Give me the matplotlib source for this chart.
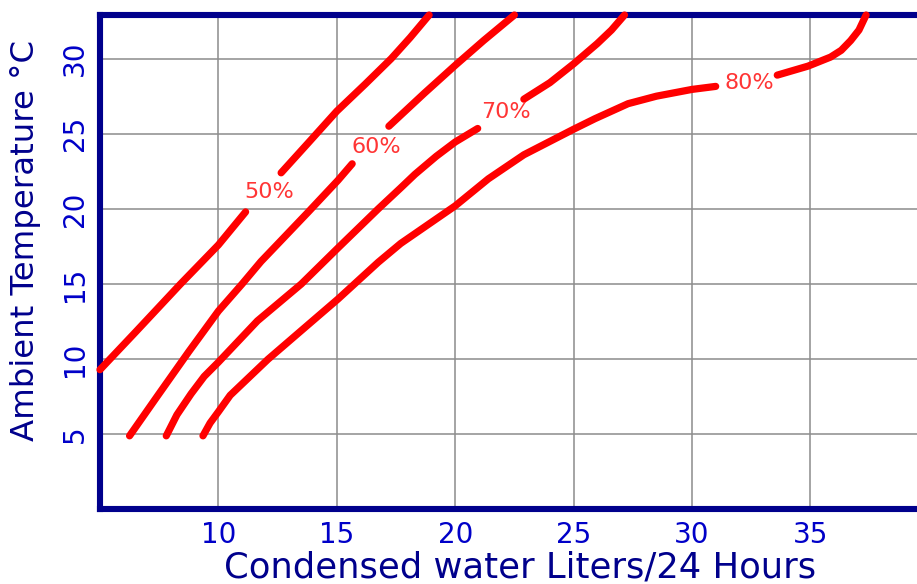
import matplotlib
matplotlib.use("Agg")
import matplotlib.pyplot as plt
import numpy as np

# Condensed water output vs ambient temperature, one curve per relative humidity.
# NaN marks the gap left in each curve for its label.
nan = np.nan
rh50_x = [5.0, 6.5, 8.4, 10.0, 11.15, nan, 12.65, 13.8, 15.0, 16.2, 17.3, 18.1, 18.9]
rh50_y = [9.3, 11.8, 15.0, 17.6, 19.8, nan, 22.4, 24.4, 26.5, 28.3, 30.0, 31.4, 32.9]

rh60_x = [6.25, 7.45, 8.75, 10.0, 11.0, 11.8, 12.65, 13.8, 15.05, 15.65,
          nan, 17.2, 18.7, 20.0, 21.2, 22.5]
rh60_y = [4.9, 7.6, 10.5, 13.2, 15.0, 16.5, 17.9, 19.8, 21.9, 23.0,
          nan, 25.5, 27.7, 29.55, 31.2, 32.9]

rh70_x = [7.8, 8.25, 8.85, 9.4, 10.0, 11.65, 13.5, 15.05, 16.75, 17.7, 18.3, 19.2,
          20.0, 20.95, nan, 22.9, 24.0, 25.0, 26.0, 26.6, 27.15]
rh70_y = [4.9, 6.3, 7.7, 8.85, 9.8, 12.55, 15.0, 17.4, 20.0, 21.4, 22.3, 23.5,
          24.45, 25.35, nan, 27.3, 28.4, 29.65, 31.0, 31.9, 32.9]

rh80_x = [9.35, 9.65, 10.0, 10.5, 11.1, 12.1, 13.5, 15.05, 16.75, 17.7, 20.0, 21.4,
          22.9, 25.0, 25.9, 27.3, 28.5, 30.0, 31.0,
          nan, 33.6, 34.9, 35.85, 36.3, 36.7, 37.05, 37.35]
rh80_y = [4.9, 5.75, 6.5, 7.6, 8.5, 10.0, 11.9, 14.0, 16.45, 17.7, 20.2, 22.0,
          23.6, 25.3, 26.0, 27.0, 27.5, 27.95, 28.15,
          nan, 28.9, 29.5, 30.1, 30.55, 31.2, 31.9, 32.9]

curves = [(rh50_x, rh50_y), (rh60_x, rh60_y), (rh70_x, rh70_y), (rh80_x, rh80_y)]
curve_labels = ["50%", "60%", "70%", "80%"]
label_x = [12.15, 16.65, 22.15, 32.4]
label_y = [21.1, 24.1, 26.45, 28.4]

x_ticks = [10, 15, 20, 25, 30, 35]
y_ticks = [5, 10, 15, 20, 25, 30]

NAVY = "#00008c"
TICK_BLUE = "#0000c8"
RED = "#ff0000"

fig = plt.figure(figsize=(9.17, 5.84), dpi=100)
ax = fig.add_axes([0.109, 0.1276, 0.891, 0.8467])

for (xs, ys) in curves:
    ax.plot(xs, ys, color=RED, linewidth=5.2, solid_capstyle="round",
            solid_joinstyle="round", zorder=3, clip_on=False)
for lab, lx, ly in zip(curve_labels, label_x, label_y):
    ax.text(lx, ly, lab, color="#ff3535", fontsize=16, ha="center", va="center")

ax.set_xlim(5, 39.5)
ax.set_ylim(0, 32.9)
ax.set_xticks(x_ticks)
ax.set_yticks(y_ticks)
ax.grid(True, color="#8c8c8c", linewidth=1.1)
ax.set_axisbelow(True)
ax.tick_params(length=0, labelsize=20, labelcolor=TICK_BLUE)
ax.tick_params(axis="x", pad=8)
ax.tick_params(axis="y", pad=8, labelrotation=90)
for lab in ax.get_yticklabels():
    lab.set_va("center")

for side in ("left", "top", "bottom"):
    ax.spines[side].set_color(NAVY)
    ax.spines[side].set_linewidth(4.4)
ax.spines["right"].set_visible(False)

ax.set_xlabel("Condensed water Liters/24 Hours", fontsize=25.5, color=NAVY,
              va="center")
ax.set_ylabel("Ambient Temperature °C", fontsize=23.3, color=NAVY,
              va="center")
ax.xaxis.set_label_coords(0.514, -0.118)
ax.yaxis.set_label_coords(-0.091, 0.545)

fig.savefig("out.png", dpi=100)
